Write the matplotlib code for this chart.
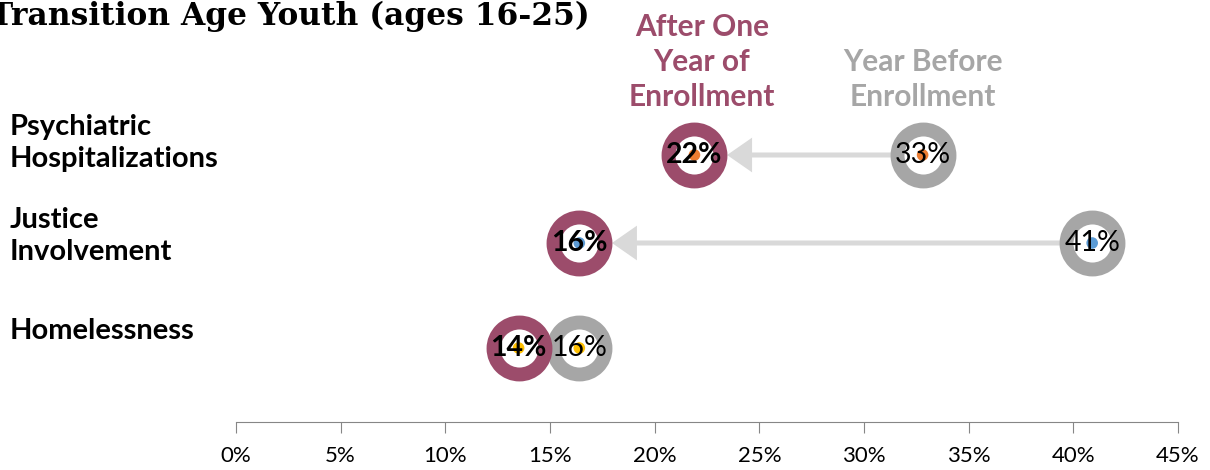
import numpy as np
import matplotlib.pyplot as plt
from matplotlib.transforms import blended_transform_factory, offset_copy

plt.rcParams['font.family'] = ['Lato', 'DejaVu Sans']

# data
categories = ['Psychiatric\nHospitalizations', 'Justice\nInvolvement', 'Homelessness']
before = [32.8, 40.9, 16.4]   # year before enrollment (%)
after = [21.9, 16.4, 13.5]    # after one year of enrollment (%)
dot_colors = ['#ED7D31', '#5B9BD5', '#FFC000']
xticks = np.arange(0, 46, 5)
title = 'Transition Age Youth (ages 16-25)'

# layout
row_y = [2.67, 1.79, 0.74]
label_lift = [12, 7, 17]   # px the row labels sit above their row
maroon = '#9C4C6B'
grey = '#A6A6A6'
arrow_grey = '#D9D9D9'

fig = plt.figure(figsize=(12.1, 4.7), dpi=100)
ax = fig.add_axes([236 / 1210, 48 / 470, 942 / 1210, 422 / 470])
ax.set_xlim(0, 45)
ax.set_ylim(0, 4.22)

# arrows from before -> after
for b, a, y in zip(before, after, row_y):
    ax.annotate('', xy=(a, y), xytext=(b, y),
                arrowprops=dict(arrowstyle='simple,head_length=1.8,head_width=2.5,tail_width=0.36',
                                color=arrow_grey, lw=0, shrinkA=0, shrinkB=23.5,
                                mutation_scale=10),
                zorder=1)

# donuts
ax.scatter(before, row_y, s=1400, facecolor='white', edgecolor=grey, linewidth=10, zorder=2)
ax.scatter(after, row_y, s=1400, facecolor='white', edgecolor=maroon, linewidth=10, zorder=3)
ax.scatter(before, row_y, s=70, color=dot_colors, zorder=4, linewidth=0)
ax.scatter(after, row_y, s=70, color=dot_colors, zorder=4, linewidth=0)

for b, a, y in zip(before, after, row_y):
    ax.text(b, y, f'{round(b)}%', ha='center', va='center', fontsize=20.5, color='black', zorder=5)
    ax.text(a, y, f'{round(a)}%', ha='center', va='center', fontsize=20.5, fontweight='bold',
            color='black', zorder=6)

# row labels
base_tr = blended_transform_factory(fig.transFigure, ax.transData)
for cat, y, lift in zip(categories, row_y, label_lift):
    tr = offset_copy(base_tr, fig=fig, y=lift, units='dots')
    ax.text(10 / 1210, y, cat, transform=tr, ha='left', va='center', fontsize=21,
            fontweight='bold', linespacing=1.27, clip_on=False)

# series headers above the first row
hdr_tr = blended_transform_factory(ax.transData, fig.transFigure)
ax.text(after[0] + 0.35, 1 - 106 / 470, 'After One\nYear of\nEnrollment', transform=hdr_tr, ha='center',
        va='baseline', fontsize=21.5, fontweight='bold', color=maroon, linespacing=1.3, clip_on=False)
ax.text(before[0], 1 - 106 / 470, 'Year Before\nEnrollment', transform=hdr_tr, ha='center',
        va='baseline', fontsize=21.5, fontweight='bold', color=grey, linespacing=1.3, clip_on=False)

fig.text(-10 / 1210, 1 - 25 / 470, title, ha='left', va='baseline', fontsize=22.5,
         fontweight='bold', family='DejaVu Serif')

# axis styling
for s in ['left', 'right', 'top']:
    ax.spines[s].set_visible(False)
ax.spines['bottom'].set_color('#868686')
ax.set_yticks([])
ax.set_xticks(xticks)
ax.set_xticklabels([f'{t}%' for t in xticks], fontsize=16)
ax.tick_params(axis='x', length=8, color='#868686', pad=9)

fig.savefig('out.png', dpi=100)
